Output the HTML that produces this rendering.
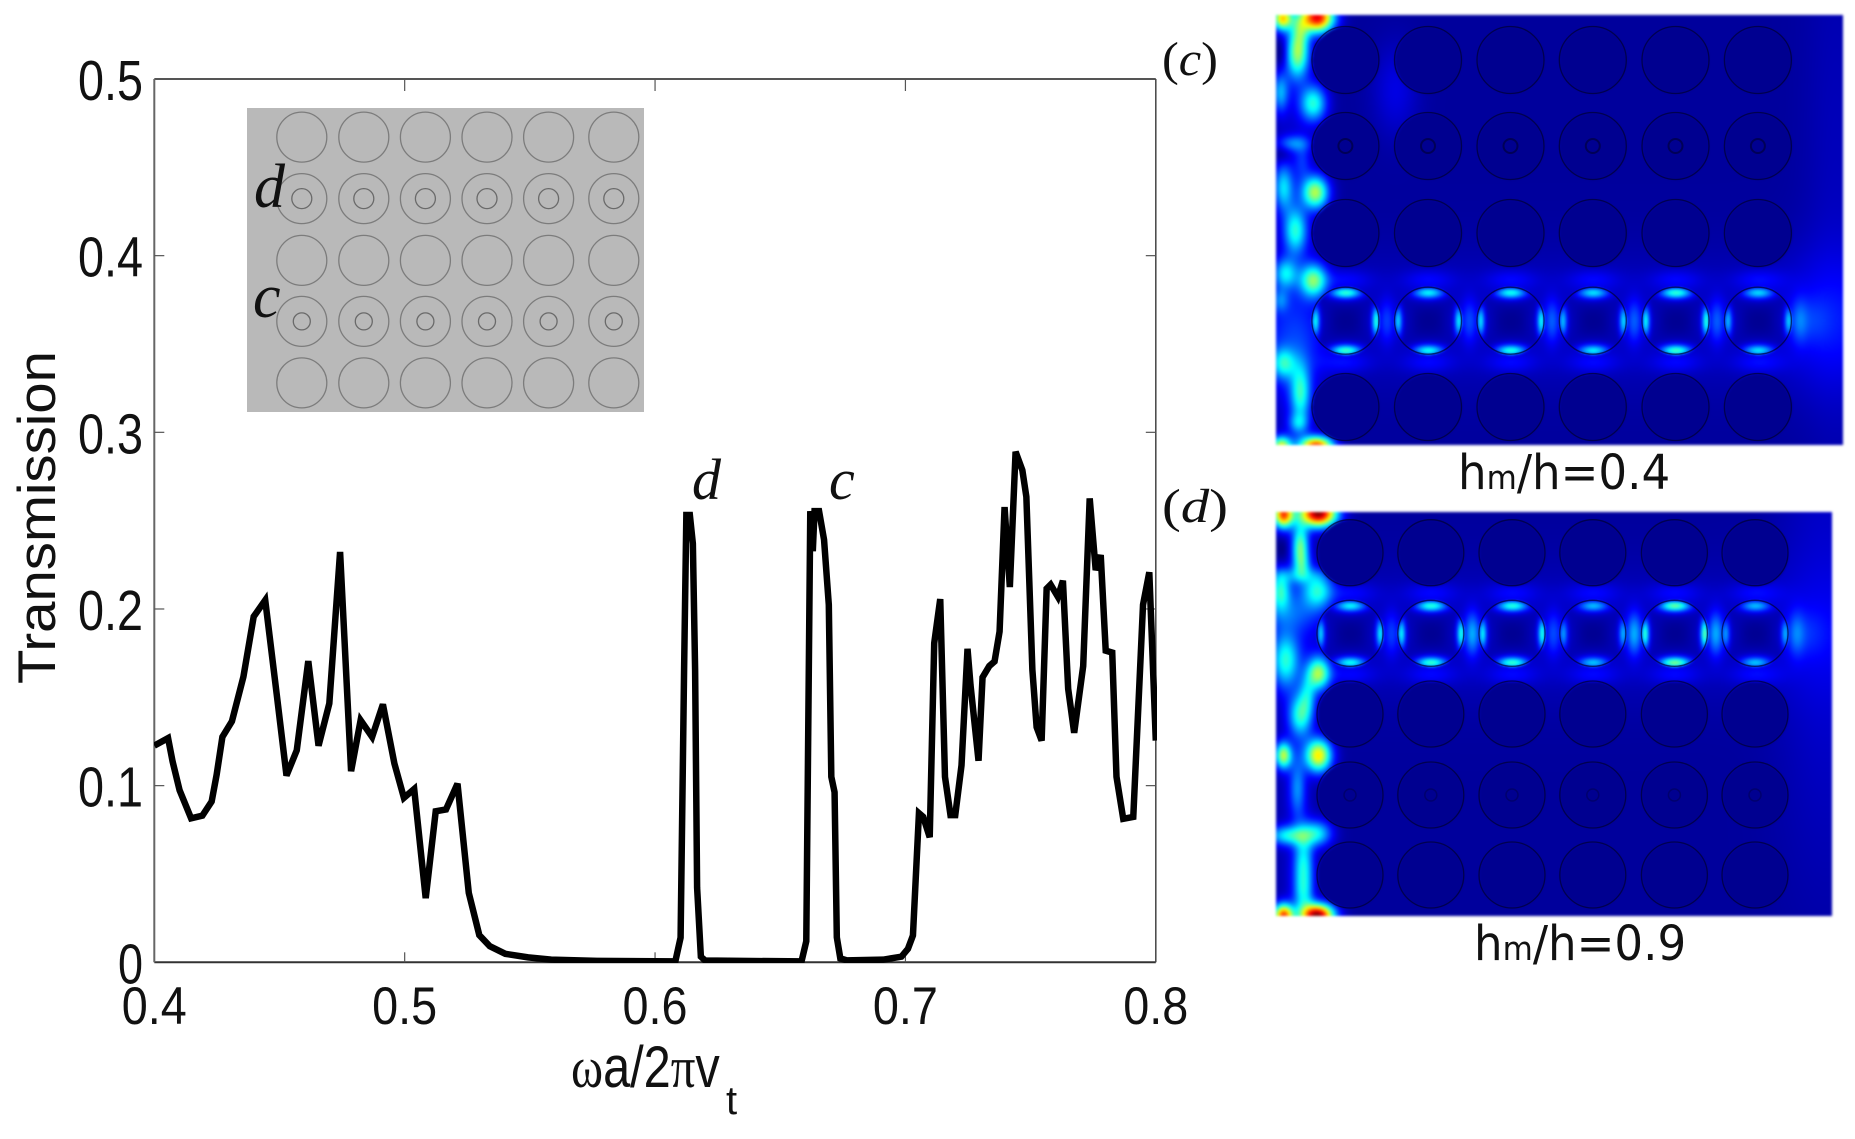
<!DOCTYPE html>
<html lang="en">
<head>
<meta charset="utf-8">
<title>Transmission spectrum with field maps</title>
<style>
html,body{margin:0;padding:0;background:#fff;}
#stage{position:relative;width:1855px;height:1139px;overflow:hidden;background:#fff;}
canvas{position:absolute;display:block;filter:blur(1.2px);}
svg{position:absolute;left:0;top:0;}
</style>
</head>
<body>
<div id="stage">
<canvas id="fieldC" width="567" height="430" style="left:1276px;top:15px"></canvas>
<canvas id="fieldD" width="556" height="404" style="left:1276px;top:512px"></canvas>
<svg id="fig" width="1855" height="1139" viewBox="0 0 1855 1139">
  <defs><clipPath id="plotClip"><rect x="154" y="60" width="1003" height="903"/></clipPath></defs>
  <rect x="247" y="108" width="397" height="304" fill="#b9b9b9"/>
  <g id="insetRings"></g>
  <g id="fieldRings"></g>
  <g id="axes"></g>
  <path id="curve" fill="none" stroke="#000" stroke-width="6.5" stroke-linejoin="miter" stroke-miterlimit="3" clip-path="url(#plotClip)"/>
  <text x="0" y="0" transform="translate(55,684) rotate(-90)" font-family="Liberation Sans" font-size="53" textLength="333" lengthAdjust="spacingAndGlyphs" fill="#111">Transmission</text>
  <text transform="translate(571,1087) scale(0.84,1)" font-family="Liberation Sans" font-size="58" fill="#111"><tspan font-family="Liberation Serif">ω</tspan>a/2<tspan font-family="Liberation Serif">π</tspan>v</text>
  <text x="726" y="1114" font-family="Liberation Sans" font-size="40" fill="#111">t</text>
  <text x="692" y="499" font-family="Liberation Serif" font-style="italic" font-size="58" fill="#111">d</text>
  <text x="829" y="499" font-family="Liberation Serif" font-style="italic" font-size="58" fill="#111">c</text>
  <text x="254" y="207" font-family="Liberation Serif" font-style="italic" font-size="62" fill="#111">d</text>
  <text x="253" y="317" font-family="Liberation Serif" font-style="italic" font-size="62" fill="#111">c</text>
  <text x="1162" y="75" font-family="Liberation Serif" font-size="48" textLength="56" lengthAdjust="spacingAndGlyphs" fill="#111">(<tspan font-style="italic">c</tspan>)</text>
  <text x="1162" y="522" font-family="Liberation Serif" font-size="48" textLength="66" lengthAdjust="spacingAndGlyphs" fill="#111">(<tspan font-style="italic">d</tspan>)</text>
  <text transform="translate(1458,489) scale(0.94,1)" font-family="DejaVu Sans" font-size="48" fill="#111">h<tspan font-size="33">m</tspan>/h=0.4</text>
  <text transform="translate(1474,960) scale(0.94,1)" font-family="DejaVu Sans" font-size="48" fill="#111">h<tspan font-size="33">m</tspan>/h=0.9</text>
</svg>
</div>
<script>
var xTickValues = [0.4, 0.5, 0.6, 0.7, 0.8];
var yTickValues = [0, 0.1, 0.2, 0.3, 0.4, 0.5];
var xTickLabels = ['0.4', '0.5', '0.6', '0.7', '0.8'];
var yTickLabels = ['0', '0.1', '0.2', '0.3', '0.4', '0.5'];

var frequency = [0.4,0.4055,0.4073,0.4101,0.4147,0.4192,0.4229,0.4249,0.4272,0.431,0.4356,0.4397,0.4443,0.4489,0.4528,0.4569,0.4615,0.4656,0.4699,0.4742,0.4786,0.4824,0.487,0.4913,0.4959,0.4997,0.5038,0.5084,0.5124,0.5165,0.5211,0.5256,0.5298,0.534,0.5402,0.5493,0.5585,0.5768,0.6081,
0.6102,0.6116,0.6125,0.6139,0.6151,0.616,0.6168,0.6183,0.62,0.6585,0.6604,0.662,0.663,0.6637,0.6655,0.6675,0.6694,0.6704,0.6717,0.6726,0.674,0.6766,0.6911,0.6984,0.701,0.703,0.7054,0.7071,0.7097,0.7115,0.7139,0.7158,0.718,0.7199,0.7224,0.7248,0.726,0.7292,0.7308,0.7335,0.7356,0.7376,0.7396,0.7417,0.744,0.7467,0.7483,0.7507,0.7524,0.7544,0.7564,0.758,0.7609,0.7629,0.765,0.7674,0.771,0.7736,0.776,0.778,0.78,0.7826,0.7843,0.787,0.791,0.7949,0.7974,0.8];
var transmission = [0.1226,0.1269,0.1137,0.0974,0.0815,0.083,0.091,0.1062,0.1276,0.1364,0.1617,0.1957,0.205,0.1516,0.1057,0.12,0.1705,0.1226,0.1465,0.2323,0.1082,0.137,0.1276,0.146,0.1125,0.0931,0.0981,0.0363,0.0855,0.0865,0.1011,0.0393,0.0154,0.0091,0.0048,0.0028,0.0015,0.0008,0.0005,
0.014,0.1656,0.2532,0.2532,0.237,0.1656,0.0422,0.0032,0.001,0.0005,0.0119,0.2554,0.2327,0.2554,0.2554,0.2392,0.2024,0.105,0.0963,0.0141,0.0022,0.0011,0.0015,0.0032,0.0076,0.0152,0.0844,0.0823,0.0708,0.1807,0.2056,0.105,0.0833,0.0833,0.1115,0.1775,0.1569,0.1141,0.1613,0.1677,0.1703,0.1872,0.2577,0.2124,0.289,0.2786,0.2635,0.1656,0.1331,0.1255,0.2115,0.2138,0.2069,0.216,0.1548,0.1299,0.1677,0.2626,0.222,0.2305,0.1764,0.1753,0.105,0.0812,0.0823,0.2024,0.2208,0.1255];

/* bright field patches of the two maps: centre x, centre y, spread x, spread y, level */
var panelCSpots = [[1317,17,10,9,0.85],[1282,18,6,7,0.6],[1297,53,7,15,0.45],[1300,30,5,10,0.18],[1313,103,8,11,0.36],[1280,92,5,12,0.24],[1293,143,10,5,0.18],[1315,192,8,10,0.5],[1283,187,6,14,0.28],[1295,230,7,14,0.33],[1302,160,5,12,0.1],[1313,280,8,10,0.42],[1285,273,7,9,0.27],[1280,300,5,7,0.14],[1283,363,7,9,0.27],[1300,393,6,18,0.32],[1298,423,6,6,0.18],[1316,446,10,6,0.8],[1281,446,6,6,0.55],[1292,350,22,30,0.08],[1294,230,14,300,0.05],[1281,53,5,10,-0.08],[1282,153,5,6,-0.06],[1395,90,14,28,0.07],[1830,320,35,45,0.05],[1835,200,20,200,0.03],[1810,320,12,14,0.06]];
var panelDSpots = [[1318,513,11,8,0.95],[1283,514,6,8,0.75],[1300,547,5,14,0.42],[1302,565,5,7,0.14],[1280,590,6,12,0.32],[1317,590,9,11,0.32],[1297,575,14,5,0.14],[1290,612,18,12,0.12],[1285,660,8,16,0.32],[1318,673,7,10,0.46],[1307,695,5,12,0.2],[1300,715,7,13,0.34],[1283,755,5,8,0.5],[1318,755,8,10,0.6],[1297,788,5,18,0.2],[1288,835,12,6,0.32],[1317,833,9,8,0.3],[1303,868,6,22,0.34],[1303,895,6,10,0.12],[1317,915,10,7,0.95],[1283,915,6,7,0.75],[1294,710,14,300,0.04],[1282,550,5,10,-0.06],[1825,620,30,160,0.05],[1805,633,12,14,0.06]];
var panelCLobes = [0.36,0.31,0.33,0.29,0.36,0.28];
var panelDLobes = [0.31,0.35,0.35,0.25,0.41,0.25];
var panelCGaps = [0.11,0.12,0.14,0.14,0.14,0.1];
var panelDGaps = [0.11,0.22,0.12,0.22,0.22,0.11];

var panelCColumns = [1345.4,1428,1510.5,1592.8,1675.5,1757.9];
var panelCRows = [60,146,233,320.7,407];
var panelDColumns = [1350,1430.8,1512,1592.8,1674.4,1755];
var panelDRows = [552.7,633.3,714,795,875];
var insetColumns = [301.8,363.8,425.4,487,548.6,613.8];
var insetRows = [137.1,198.6,260.4,321.4,382.9];

var SVGNS = 'http://www.w3.org/2000/svg';
var plotLeft = 154.3, plotRight = 1155.8, plotTop = 79, plotBottom = 962.3;
function xScale(v){ return plotLeft + (v - 0.4) / 0.4 * (plotRight - plotLeft); }
function yScale(v){ return plotBottom - v / 0.5 * (plotBottom - plotTop); }

function makeLine(parent, x1, y1, x2, y2, color, width){
  var l = document.createElementNS(SVGNS, 'line');
  l.setAttribute('x1', x1);
  l.setAttribute('y1', y1);
  l.setAttribute('x2', x2);
  l.setAttribute('y2', y2);
  l.setAttribute('stroke', color);
  l.setAttribute('stroke-width', width);
  parent.appendChild(l);
  return l;
}
function makeLabel(parent, str, x, y, size, anchor, len){
  var t = document.createElementNS(SVGNS, 'text');
  t.setAttribute('x', x);
  t.setAttribute('y', y);
  t.setAttribute('font-family', 'Liberation Sans');
  t.setAttribute('font-size', size);
  t.setAttribute('text-anchor', anchor);
  t.setAttribute('textLength', len);
  t.setAttribute('lengthAdjust', 'spacingAndGlyphs');
  t.setAttribute('fill', '#111');
  t.textContent = str;
  parent.appendChild(t);
  return t;
}
function makeRing(parent, cx, cy, r, color, width){
  var c = document.createElementNS(SVGNS, 'circle');
  c.setAttribute('cx', cx);
  c.setAttribute('cy', cy);
  c.setAttribute('r', r);
  c.setAttribute('fill', 'none');
  c.setAttribute('stroke', color);
  c.setAttribute('stroke-width', width);
  parent.appendChild(c);
  return c;
}

var axes = document.getElementById('axes');
var el;
el = makeLine(axes, plotLeft, plotTop, plotRight, plotTop, '#555', 2);


el = makeLine(axes, plotLeft, plotBottom, plotRight, plotBottom, '#333', 2);


el = makeLine(axes, plotLeft, plotTop, plotLeft, plotBottom, '#666', 2);


el = makeLine(axes, plotRight, plotTop, plotRight, plotBottom, '#444', 1.5);



xTickValues.forEach(function(v, i){
  var x = xScale(v);
  if (i > 0 && i < xTickValues.length - 1) {
    var a = makeLine(axes, x, plotBottom, x, plotBottom - 10, '#555', 1.2);
    
    
    var b = makeLine(axes, x, plotTop, x, plotTop + 12, '#555', 1.2);
    
    
  }
  var t = makeLabel(axes, xTickLabels[i], x, 1024, 53, 'middle', 65);
  
  
});
yTickValues.forEach(function(v, i){
  var y = yScale(v);
  if (i > 0 && i < yTickValues.length - 1) {
    var a = makeLine(axes, plotLeft, y, plotLeft + 10, y, '#555', 1.2);
    
    
    var b = makeLine(axes, plotRight, y, plotRight - 10, y, '#555', 1.2);
    
    
  }
  var t = makeLabel(axes, yTickLabels[i], 143, y + 21, 57, 'end', yTickLabels[i].length > 1 ? 65 : 25);
  
  
});

var d = '';
frequency.forEach(function(f, i){
  d += (i ? 'L' : 'M') + xScale(f).toFixed(2) + ' ' + yScale(transmission[i]).toFixed(2);
});
document.getElementById('curve').setAttribute('d', d);

var insetG = document.getElementById('insetRings');
insetRows.forEach(function(cy, ri){
  insetColumns.forEach(function(cx){
    var ring = makeRing(insetG, cx, cy, 25, '#7c7c7c', 1.3);
    
    
    if (ri === 1 || ri === 3) {
      var inner = makeRing(insetG, cx, cy, ri === 1 ? 10 : 8.5, '#6a6a6a', 1.3);
      
      
    }
  });
});

function jet(v){
  function c(x){ return Math.max(0, Math.min(1, x)); }
  return [c(1.5 - Math.abs(4*v - 3))*255, c(1.5 - Math.abs(4*v - 2))*255, c(1.5 - Math.abs(4*v - 1))*255];
}
function drawField(id, x0, y0, cols, rows, r, spots, guideRow, lobes, gaps){
  var cv = document.getElementById(id), W = cv.width, H = cv.height;
  var ctx = cv.getContext('2d'), img = ctx.createImageData(W, H);
  var gy = rows[guideRow], outer = [], inner = [];
  spots.forEach(function(s){ outer.push([s[0], s[1], s[2]*1.15, s[3]*1.15, s[4]]); });
  outer.push([1560, gy, 420, 45, 0.05]);
  cols.forEach(function(cx, i){
    var a = lobes[i];
    inner.push([cx, gy - r + 5, 11, 4, a]);
    inner.push([cx, gy + r - 4, 11, 4, a * 1.05]);
    inner.push([cx - r + 3, gy, 3, 11, a * 0.9]);
    inner.push([cx + r - 3, gy, 3, 11, a]);
    inner.push([cx, gy - r + 8, 16, 9, 0.05]);
    inner.push([cx, gy + r - 8, 16, 9, 0.05]);
    inner.push([cx - r + 8, gy, 9, 16, 0.045]);
    inner.push([cx + r - 8, gy, 9, 16, 0.045]);
    outer.push([cx + 41, gy, 5.5, 15, gaps[i]]);
    outer.push([cx, gy - r - 8, 18, 7, 0.07]);
    outer.push([cx, gy + r + 8, 18, 7, 0.07]);
  });
  function sum(list, x, y){
    var s = 0;
    for (var k = 0; k < list.length; k++) {
      var g = list[k], dx = (x - g[0]) / g[2], dy = (y - g[1]) / g[3];
      if (dx > 3.5 || dx < -3.5 || dy > 3.5 || dy < -3.5) continue;
      s += g[4] * Math.exp(-0.5 * (dx*dx + dy*dy));
    }
    return s;
  }
  for (var py = 0; py < H; py++) {
    for (var px = 0; px < W; px++) {
      var x = x0 + px, y = y0 + py, ins = false;
      for (var a = 0; a < cols.length && !ins; a++) {
        var ddx = x - cols[a];
        if (ddx < -r || ddx > r) continue;
        for (var b = 0; b < rows.length; b++) {
          var ddy = y - rows[b];
          if (ddx*ddx + ddy*ddy < r*r) { ins = true; break; }
        }
      }
      var v = ins ? 0.016 + sum(inner, x, y) : 0.028 + sum(outer, x, y);
      if (v < 0.005) v = 0.005;
      var col = jet(v), o = (py * W + px) * 4;
      img.data[o] = col[0];
      img.data[o+1] = col[1];
      img.data[o+2] = col[2];
      img.data[o+3] = 255;
    }
  }
  ctx.putImageData(img, 0, 0);
}
drawField('fieldC', 1276, 15, panelCColumns, panelCRows, 33.5, panelCSpots, 3, panelCLobes, panelCGaps);
drawField('fieldD', 1276, 512, panelDColumns, panelDRows, 33, panelDSpots, 1, panelDLobes, panelDGaps);

var fieldG = document.getElementById('fieldRings');
panelCRows.forEach(function(cy, ri){
  panelCColumns.forEach(function(cx){
    var ring = makeRing(fieldG, cx, cy, 33.5, 'rgba(0,0,40,0.65)', 1.3);
    
    
    if (ri === 1) {
      var core = makeRing(fieldG, cx, cy, 7, 'rgba(0,0,50,0.6)', 2);
      
      
    }
  });
});
panelDRows.forEach(function(cy, ri){
  panelDColumns.forEach(function(cx){
    var ring = makeRing(fieldG, cx, cy, 33, 'rgba(0,0,40,0.65)', 1.3);
    
    
    if (ri === 3) {
      var core = makeRing(fieldG, cx, cy, 6, 'rgba(0,0,60,0.4)', 1.5);
      
      
    }
  });
});
</script>
</body>
</html>
